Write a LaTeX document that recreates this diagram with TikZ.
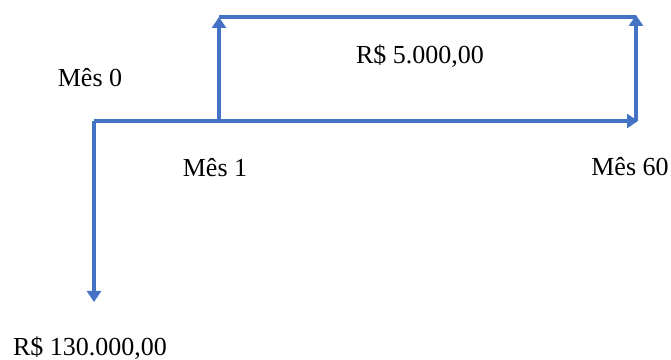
\documentclass[tikz,border=0pt]{standalone}
\usepackage{fontspec}
\setmainfont{Liberation Serif}
\usetikzlibrary{arrows.meta}
\definecolor{azul}{HTML}{4472C4}
\begin{document}
\begin{tikzpicture}[
    fluxo/.style={line width=2.3pt, azul, -{Triangle[length=0.22cm, width=0.28cm]}},
    linha/.style={line width=2.3pt, azul},
    rotulo/.style={font=\fontsize{14.8}{17}\selectfont, inner sep=0pt}
]
    \useasboundingbox (0, 0) rectangle (13.42, 7.2);

    % Points on the time line
    \coordinate (m0) at (1.88, 4.78);
    \coordinate (m1) at (4.38, 4.78);
    \coordinate (m60) at (12.72, 4.78);
    \coordinate (fim) at (12.76, 4.78);
    \coordinate (saida) at (1.88, 1.16);
    \coordinate (topo1) at (4.38, 6.86);
    \coordinate (topo60) at (12.72, 6.90);
    \coordinate (topo60b) at (12.72, 6.86);

    % Time line and outflow
    \draw[fluxo] (m0) -- (fim);
    \draw[fluxo] (m0) -- (saida);

    % Monthly inflows
    \draw[linha] (topo1) -- (topo60b);
    \draw[fluxo] (m1) -- (topo1);
    \draw[fluxo] (m60) -- (topo60);

    % Labels
    \node[rotulo] (mes0) at (1.8, 5.64) {Mês 0};
    \node[rotulo] (mes1) at (4.3, 3.84) {Mês 1};
    \node[rotulo] (mes60) at (12.6, 3.86) {Mês 60};
    \node[rotulo] (parcela) at (8.4, 6.08) {R\$ 5.000,00};
    \node[rotulo] (valor) at (1.8, 0.24) {R\$ 130.000,00};
\end{tikzpicture}
\end{document}
